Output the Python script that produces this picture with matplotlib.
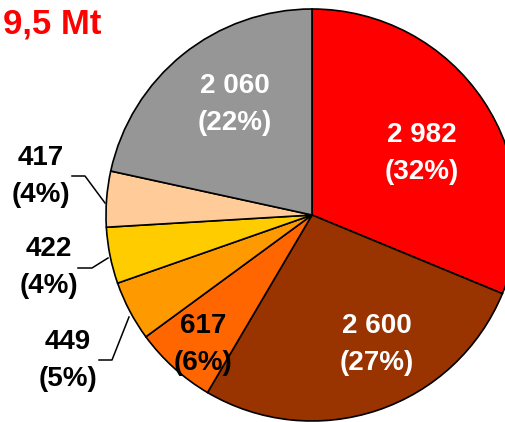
import matplotlib.pyplot as plt

plt.rcParams['font.family'] = ['Liberation Sans', 'DejaVu Sans']

# Tonnage by category (kt), clockwise from 12 o'clock
values = [2982, 2600, 617, 449, 422, 417, 2060]
percents = ['32%', '27%', '6%', '5%', '4%', '4%', '22%']
colors = ['#ff0000', '#993300', '#ff6600', '#ff9900', '#ffcc00', '#ffcc99', '#969696']
total_label = '9,5 Mt'

W, H = 506, 422
fig = plt.figure(figsize=(W / 100, H / 100), dpi=100)
ax = fig.add_axes([0, 0, 1, 1])

# pie drawn in pixel coords; y axis is flipped so the wedge direction flips too
ax.pie(values, colors=colors, startangle=-90, counterclock=True,
       center=(312, 215), radius=206, frame=True,
       wedgeprops=dict(edgecolor='black', linewidth=1.2))
ax.set_xlim(0, W)
ax.set_ylim(H, 0)
ax.set_aspect('equal')
ax.axis('off')


def fmt(v):
    return f'{v:,}'.replace(',', ' ')


# label positions (pixel coords) and text colours
label_pos = [(422, 135), (377, 326), (203, 326), (68, 342), (49, 249), (41, 158), (235, 86)]
label_col = ['white', 'white', 'black', 'black', 'black', 'black', 'white']
for v, p, (x, y), c in zip(values, percents, label_pos, label_col):
    ax.text(x, y, fmt(v), ha='center', va='center', fontsize=20,
            fontweight='bold', color=c)
    ax.text(x, y + 37, f'({p})', ha='center', va='center', fontsize=20,
            fontweight='bold', color=c)

# leader lines for the small outside labels
leaders = [
    [(72, 176), (85, 176), (105, 203)],
    [(78, 268), (92, 268), (108, 258)],
    [(99, 360), (112, 360), (129, 317)],
]
for pts in leaders:
    xs, ys = zip(*pts)
    ax.plot(xs, ys, color='black', linewidth=1.1)

ax.text(101, 24, total_label, ha='right', va='center', fontsize=25,
        fontweight='bold', color='#ff0000')

fig.savefig('out.png', dpi=100)
